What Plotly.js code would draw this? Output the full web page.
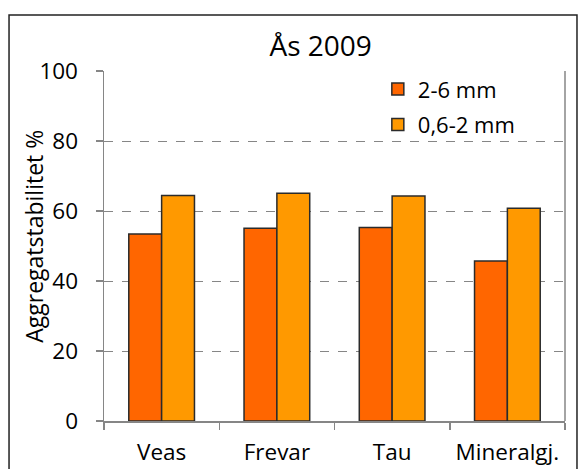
<!DOCTYPE html>
<html>
<head>
<meta charset="utf-8">
<script src="https://cdn.plot.ly/plotly-3.0.1.min.js"></script>
<style>html,body{margin:0;padding:0;background:#fff;}#chart{width:581px;height:469px;}</style>
</head>
<body>
<div id="chart"></div>
<script>
var categories = ["Veas", "Frevar", "Tau", "Mineralgj."];
var seriesNames = ["2-6 mm", "0,6-2 mm"];
var values_2_6 = [53.4, 55.1, 55.3, 45.7];
var values_06_2 = [64.4, 65.1, 64.3, 60.8];
var yTicks = [0, 20, 40, 60, 80, 100];
var yTitle = "Aggregatstabilitet %";

var FONT = "Open Sans, Noto Sans, sans-serif";
var barLine = {color: "#2b2b2b", width: 1.5};

var traces = [
  {type: "bar", name: seriesNames[0], x: categories, y: values_2_6, legendgroup: "a",
   marker: {color: "#FF6600", line: barLine}},
  {type: "bar", name: seriesNames[1], x: categories, y: values_06_2, legendgroup: "b",
   marker: {color: "#FF9900", line: barLine}}
];

var layout = {
  width: 581, height: 469,
  margin: {l: 104, r: 16, t: 71, b: 48, pad: 0},
  paper_bgcolor: "#fff", plot_bgcolor: "#fff",
  font: {family: FONT, size: 22, color: "#000"},
  title: {text: "Ås 2009", font: {family: FONT, size: 28, color: "#000"},
          xref: "paper", x: 0.47, xanchor: "center", yref: "container", y: 0.902, yanchor: "middle"},
  barmode: "group", bargap: 0.43, bargroupgap: 0,
  showlegend: true,
  legend: {x: 0.594, y: 1.008, xanchor: "left", yanchor: "top", bgcolor: "rgba(0,0,0,0)",
           traceorder: "grouped", tracegroupgap: 4,
           font: {family: FONT, size: 22, color: "#000"}, itemwidth: 30},
  xaxis: {type: "category", tickson: "boundaries", ticks: "outside", ticklen: 7, tickcolor: "#868686", tickwidth: 1.5,
          showline: true, linecolor: "#868686", linewidth: 1.5, showgrid: false, zeroline: false,
          ticklabelstandoff: 10,
          tickfont: {family: FONT, size: 22.5, color: "#000"}},
  yaxis: {range: [0, 100], tickvals: yTicks, ticktext: yTicks.map(String), ticks: "outside", ticklen: 7,
          tickcolor: "#868686", tickwidth: 1.5, showline: true, linecolor: "#868686", linewidth: 1.5,
          showgrid: true, gridcolor: "#868686", griddash: "dash", gridwidth: 1, zeroline: false,
          ticklabelstandoff: 13,
          tickfont: {family: FONT, size: 22.5, color: "#000"}},
  annotations: [
    {text: yTitle, textangle: -90, xref: "paper", yref: "paper", x: -0.152, y: 0.529,
     xanchor: "center", yanchor: "middle", showarrow: false,
     font: {family: FONT, size: 23, color: "#000"}}
  ],
  shapes: [
    {type: "line", xref: "paper", yref: "paper", x0: 1, x1: 1, y0: 0, y1: 1,
     line: {color: "#868686", width: 1.5}},
    {type: "rect", xref: "paper", yref: "paper", x0: -0.206, x1: 1.026, y0: -0.2, y1: 1.16,
     line: {color: "#222", width: 1.5}, fillcolor: "rgba(0,0,0,0)", layer: "above"}
  ]
};

Plotly.newPlot("chart", traces, layout, {displayModeBar: false, staticPlot: true});
</script>
</body>
</html>
